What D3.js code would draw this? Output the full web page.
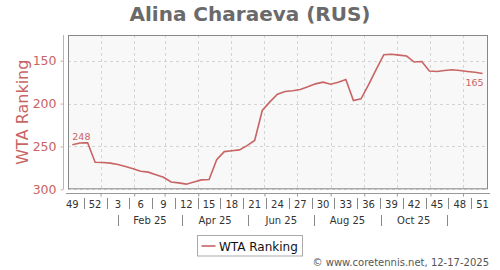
<!DOCTYPE html>
<html>
<head>
<meta charset="utf-8">
<script src="https://cdn.jsdelivr.net/npm/d3@7"></script>
<style>
  body { margin: 0; background: #fff; }
  svg { font-family: "DejaVu Sans", sans-serif; display: block; }
</style>
</head>
<body>
<div id="chart"></div>
<script>
// week numbers shown on the axis (Dec 2024 -> Dec 2025)
const weekNums = [49, 50, 51, 52, 1, 2, 3, 4, 5, 6, 7, 8, 9, 10, 11, 12, 13, 14, 15, 16,
  17, 18, 19, 20, 21, 22, 23, 24, 25, 26, 27, 28, 29, 30, 31, 32, 33, 34, 35, 36,
  37, 38, 39, 40, 41, 42, 43, 44, 45, 46, 47, 48, 49, 50, 51];
// WTA ranking per week
const ranks = [248, 246, 245.5, 268.5, 268.7, 269.5, 271, 273.5, 276, 279, 280, 283, 286, 291.5, 292.5,
  294, 291.5, 289, 288.5, 265.5, 256, 255, 254, 249, 243, 208, 198, 189, 186, 185,
  183.5, 180.5, 177, 175, 177.5, 175, 172, 196.5, 194.5, 178, 160, 143, 142.5, 143.5, 144.5,
  151.5, 151, 162, 162.5, 161.5, 160.5, 161.5, 162.5, 163.5, 165];
const yTicks = [150, 200, 250, 300];
const monthLabels = ["Feb 25", "Apr 25", "Jun 25", "Aug 25", "Oct 25"];

const lineColor = "#c86464";
const W = 500, H = 270;
const plot = { left: 68, right: 488, top: 35, bottom: 189.3 };

const firstWeek = new Date(Date.UTC(2024, 11, 21));
const data = ranks.map((r, i) => ({
  date: d3.utcDay.offset(firstWeek, i * 7),
  week: weekNums[i],
  rank: r
}));

const x = d3.scaleUtc()
  .domain([new Date(Date.UTC(2024, 11, 17)), new Date(Date.UTC(2026, 0, 8))])
  .range([plot.left, plot.right]);
const y = d3.scaleLinear()
  .domain([120, 300])
  .range([plot.top, plot.bottom]);

const svg = d3.select("#chart").append("svg")
  .attr("width", W)
  .attr("height", H);

// title
svg.append("text")
  .attr("x", W / 2).attr("y", 21)
  .attr("text-anchor", "middle")
  .style("font-size", "20px")
  .style("font-weight", "bold")
  .style("fill", "#6a6a6a")
  .text("Alina Charaeva (RUS)");

// plot background
svg.append("rect")
  .attr("x", plot.left).attr("y", plot.top)
  .attr("width", plot.right - plot.left)
  .attr("height", plot.bottom - plot.top)
  .style("fill", "#f8f8f8");

// gridlines (mid-month vertical, rank horizontal)
const midMonths = d3.utcMonth.range(new Date(Date.UTC(2025, 0, 1)), new Date(Date.UTC(2026, 0, 1)))
  .map(d => d3.utcDay.offset(d, 15));
svg.append("g").selectAll("line")
  .data(midMonths)
  .join("line")
  .attr("x1", d => Math.round(x(d)) + 0.5).attr("x2", d => Math.round(x(d)) + 0.5)
  .attr("y1", plot.top).attr("y2", plot.bottom)
  .style("stroke", "#d4d4d4")
  .style("stroke-dasharray", "3,3");
svg.append("g").selectAll("line")
  .data(yTicks)
  .join("line")
  .attr("x1", plot.left).attr("x2", plot.right)
  .attr("y1", d => Math.round(y(d)) + 0.5).attr("y2", d => Math.round(y(d)) + 0.5)
  .style("stroke", "#d4d4d4")
  .style("stroke-dasharray", "3,3");

// ranking line
const line = d3.line()
  .x(d => x(d.date))
  .y(d => y(d.rank));
svg.append("path")
  .datum(data)
  .attr("d", line)
  .style("fill", "none")
  .style("stroke", lineColor)
  .style("stroke-width", 1.6);

// first / last value labels
const first = data[0], last = data[data.length - 1];
svg.append("text")
  .attr("x", x(first.date)).attr("y", y(first.rank) - 5)
  .style("font-size", "9.5px")
  .style("fill", lineColor)
  .style("stroke", "#f8f8f8")
  .style("stroke-width", 4)
  .style("paint-order", "stroke")
  .text(first.rank);
svg.append("text")
  .attr("x", x(last.date) + 1).attr("y", y(last.rank) + 12)
  .attr("text-anchor", "end")
  .style("font-size", "9.5px")
  .style("fill", lineColor)
  .text(last.rank);

// plot frame
svg.append("rect")
  .attr("x", plot.left + 0.5).attr("y", plot.top + 0.5)
  .attr("width", plot.right - plot.left - 1)
  .attr("height", plot.bottom - plot.top - 1)
  .style("fill", "none")
  .style("stroke", "#888");

// y axis
const yAxis = svg.append("g")
  .attr("transform", "translate(63.5,0)")
  .call(d3.axisLeft(y).tickValues(yTicks).tickSize(3).tickPadding(4));
yAxis.select(".domain").attr("d", `M0,${plot.top}V${plot.bottom}`).style("stroke", "#d8a8a8");
yAxis.selectAll(".tick line").style("stroke", "#d8a8a8");
yAxis.selectAll("text")
  .style("font-size", "12.5px")
  .style("font-family", "DejaVu Sans, sans-serif")
  .style("fill", lineColor);

svg.append("text")
  .attr("transform", `translate(28,${(plot.top + plot.bottom) / 2}) rotate(-90)`)
  .attr("text-anchor", "middle")
  .style("font-size", "16px")
  .style("fill", lineColor)
  .text("WTA Ranking");

// x axis: line + small ticks at mid-month
const xAxis = svg.append("g")
  .attr("transform", "translate(0,193.5)")
  .call(d3.axisBottom(x).tickValues(midMonths).tickSize(3).tickFormat(""));
xAxis.select(".domain").attr("d", `M${plot.left - 2},0H${plot.right + 2}`).style("stroke", "#999");
xAxis.selectAll(".tick line").style("stroke", "#999");

// week labels every 3 weeks, separators in between
const weekTicks = data.filter((d, i) => i % 3 === 0);
svg.append("g").selectAll("text")
  .data(weekTicks)
  .join("text")
  .attr("x", d => x(d.date))
  .attr("y", 208)
  .attr("text-anchor", "middle")
  .style("font-size", "10px")
  .style("fill", "#333")
  .text(d => d.week);
svg.append("g").selectAll("line")
  .data(weekTicks.slice(0, -1))
  .join("line")
  .attr("x1", d => Math.round(x(d3.utcHour.offset(d.date, 252))) + 0.5)
  .attr("x2", d => Math.round(x(d3.utcHour.offset(d.date, 252))) + 0.5)
  .attr("y1", 198).attr("y2", 209)
  .style("stroke", "#888");

// month bands (2 months each, Feb 1 .. Dec 1)
const monthBounds = d3.utcMonth.range(new Date(Date.UTC(2025, 1, 1)), new Date(Date.UTC(2025, 11, 2)), 2);
svg.append("g").selectAll("line")
  .data(monthBounds)
  .join("line")
  .attr("x1", d => Math.round(x(d)) + 0.5).attr("x2", d => Math.round(x(d)) + 0.5)
  .attr("y1", 215).attr("y2", 226)
  .style("stroke", "#888");
svg.append("g").selectAll("text")
  .data(monthLabels)
  .join("text")
  .attr("x", (d, i) => (x(monthBounds[i]) + x(monthBounds[i + 1])) / 2)
  .attr("y", 224)
  .attr("text-anchor", "middle")
  .style("font-size", "10px")
  .style("fill", "#333")
  .text(d => d);

// legend
const legend = svg.append("g").attr("transform", "translate(197.5,235.5)");
legend.append("rect")
  .attr("width", 105).attr("height", 20.5)
  .style("fill", "#fff")
  .style("stroke", "#aaa");
legend.append("line")
  .attr("x1", 4).attr("x2", 18)
  .attr("y1", 10.5).attr("y2", 10.5)
  .style("stroke", lineColor)
  .style("stroke-width", 1.6);
legend.append("text")
  .attr("x", 21.5).attr("y", 15)
  .style("font-size", "12px")
  .style("fill", "#111")
  .text("WTA Ranking");

// footer
svg.append("text")
  .attr("x", 489).attr("y", 266)
  .attr("text-anchor", "end")
  .style("font-size", "10px")
  .style("fill", "#555")
  .text("© www.coretennis.net, 12-17-2025");
</script>
</body>
</html>
